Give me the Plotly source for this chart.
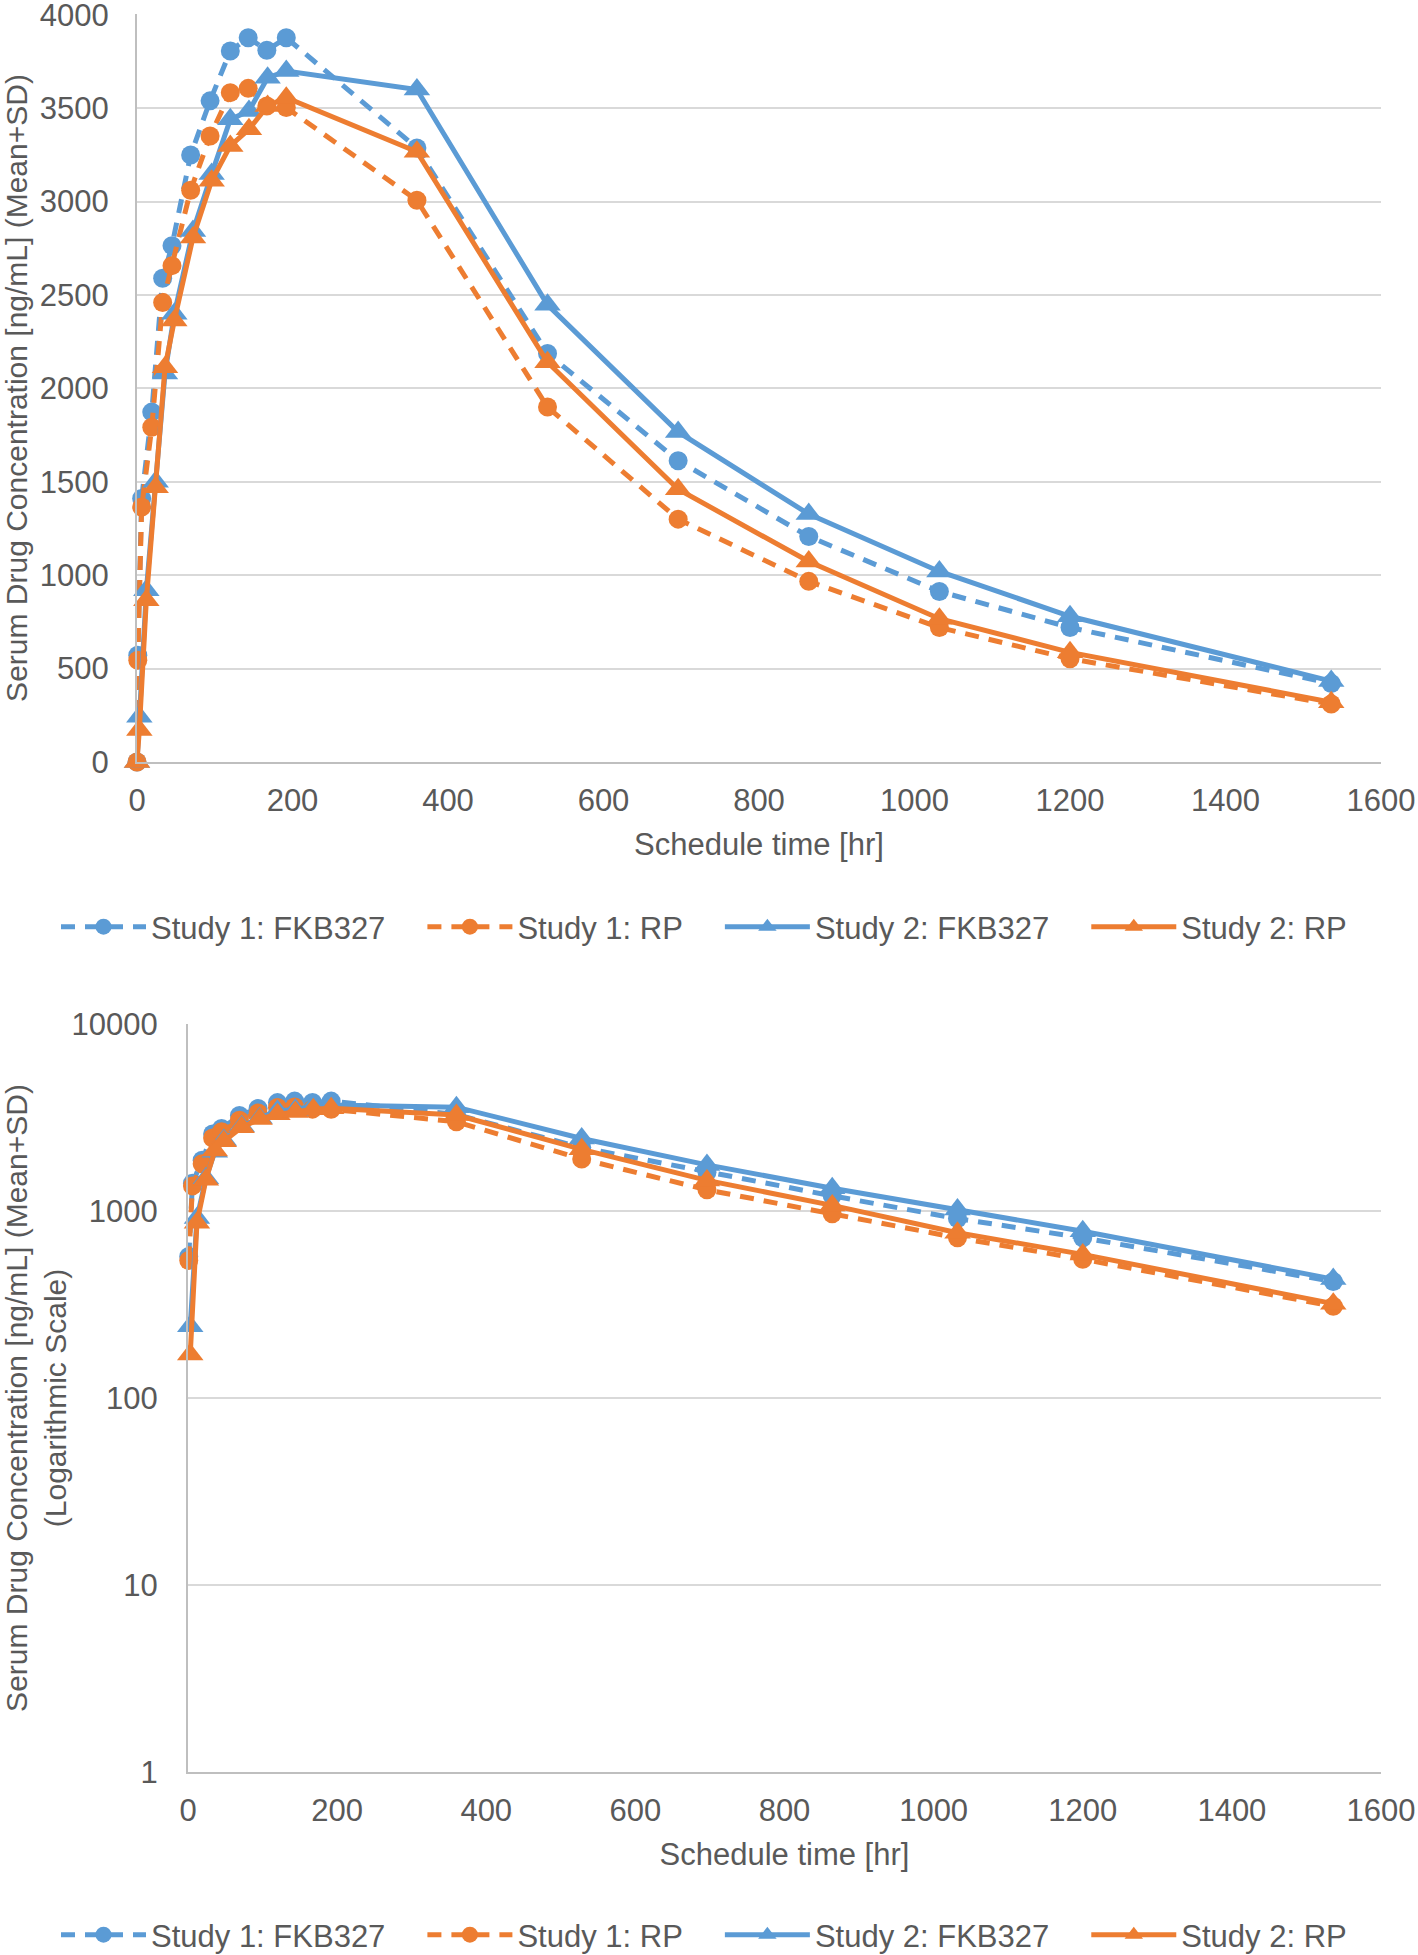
import plotly.graph_objects as go

W, H = 1418, 1955

# ---- data ----
t_study1 = [0, 1, 6, 19, 33, 45, 69, 94, 120, 143, 167, 192, 360, 528, 696, 864, 1032, 1200, 1536]
s1_fkb327 = [0, 572, 1411, 1873, 2589, 2764, 3249, 3539, 3806, 3877, 3810, 3877,
             3287, 2187, 1613, 1207, 913, 720, 420]
s1_rp = [0, 545, 1365, 1792, 2460, 2657, 3061, 3351, 3583, 3606, 3512, 3503,
         3007, 1900, 1300, 967, 720, 553, 310]

t_study2 = [0, 3, 12, 24, 36, 48, 72, 96, 120, 144, 168, 192, 360, 528, 696, 864, 1032, 1200, 1536]
s2_fkb327 = [0, 242, 919, 1500, 2079, 2400, 2843, 3147, 3440, 3485, 3663, 3699,
             3600, 2447, 1767, 1327, 1020, 780, 433]
s2_rp = [0, 171, 866, 1471, 2113, 2363, 2808, 3111, 3298, 3387, 3512, 3556,
         3267, 2140, 1460, 1073, 767, 587, 320]

names = ["Study 1: FKB327", "Study 1: RP", "Study 2: FKB327", "Study 2: RP"]
x_ticks = [0, 200, 400, 600, 800, 1000, 1200, 1400, 1600]
lin_ticks = [0, 500, 1000, 1500, 2000, 2500, 3000, 3500, 4000]
log_ticks = [1, 10, 100, 1000, 10000]

BLUE = "#5B9BD5"
ORANGE = "#ED7D31"
TXT = "#595959"
GRID = "#D9D9D9"
AXL = "#BFBFBF"
FONT = "Liberation Sans, Arial, sans-serif"
FS = 31
PAD = "\u00a0\u00a0\u00a0\u2009"  # invisible spacing between legend entries

series = [
    (t_study1, s1_fkb327, BLUE, "circle", "14px,10px", 19),
    (t_study1, s1_rp, ORANGE, "circle", "14px,10px", 19),
    (t_study2, s2_fkb327, BLUE, "triangle-up", "solid", 23),
    (t_study2, s2_rp, ORANGE, "triangle-up", "solid", 23),
]

fig = go.Figure()
for ax, lg, is_log in (("", "legend", False), ("2", "legend2", True)):
    for (tx, vy, col, sym, dash, ms), nm in zip(series, names):
        if is_log:  # zero concentrations cannot be shown on a log axis
            pts = [(a, b) for a, b in zip(tx, vy) if b > 0]
            tx = [p[0] for p in pts]
            vy = [p[1] for p in pts]
        fig.add_trace(go.Scatter(
            x=tx, y=vy, name=nm + PAD, mode="lines+markers",
            line=dict(color=col, width=5, dash=dash),
            marker=dict(color=col, symbol=sym, size=ms),
            cliponaxis=False,
            xaxis="x" + ax, yaxis="y" + ax, legend=lg,
        ))

def px_dom_x(a, b):  # page pixel coordinates -> paper fraction
    return [a / W, b / W]

def px_dom_y(top, bottom):
    return [1 - bottom / H, 1 - top / H]

axis_font = dict(family=FONT, size=FS, color=TXT)
ytitle_font = dict(family=FONT, size=30, color=TXT)

xcommon = dict(
    range=[0, 1600], tickvals=x_ticks, showgrid=False, zeroline=False,
    showline=True, linecolor=AXL, linewidth=2, automargin=False,
    tickfont=axis_font, ticks="", ticklabelstandoff=10, ticklabeloverflow="allow",
    title=dict(text="Schedule time [hr]", font=axis_font, standoff=16),
)

ycommon = dict(
    showgrid=True, gridcolor=GRID, gridwidth=2, zeroline=False,
    showline=True, linecolor=AXL, linewidth=2, automargin=False,
    tickfont=axis_font, ticklabeloverflow="allow",
)

legend_common = dict(orientation="h", xanchor="left", yanchor="middle",
                     font=axis_font, itemwidth=85,
                     bgcolor="rgba(0,0,0,0)")

fig.update_layout(
    width=W, height=H,
    margin=dict(l=0, r=0, t=0, b=0, autoexpand=False),
    paper_bgcolor="white", plot_bgcolor="white",
    font=dict(family=FONT, size=FS, color=TXT),
    xaxis=dict(domain=px_dom_x(137, 1381), anchor="y", **xcommon),
    yaxis=dict(
        domain=px_dom_y(14, 762), anchor="x", range=[0, 4004], tickvals=lin_ticks,
        ticklabelstandoff=20,
        title=dict(text="Serum Drug Concentration [ng/mL] (Mean+SD)", font=ytitle_font, standoff=3),
        **ycommon,
    ),
    xaxis2=dict(domain=px_dom_x(188, 1381), anchor="y2", **xcommon),
    yaxis2=dict(
        domain=px_dom_y(1024, 1772), anchor="x2", type="log", range=[0, 4.001],
        tickvals=log_ticks, ticktext=[str(v) for v in log_ticks],
        ticklabelstandoff=22,
        title=dict(text="Serum Drug Concentration [ng/mL] (Mean+SD)<br>(Logarithmic Scale)",
                   font=ytitle_font, standoff=0),
        **ycommon,
    ),
    legend=dict(x=56 / W, y=1 - 927 / H, **legend_common),
    legend2=dict(x=56 / W, y=1 - 1935 / H, **legend_common),
)

fig.write_html("out.html", config={"displayModeBar": False},
               post_script="document.body.style.margin='0';")
